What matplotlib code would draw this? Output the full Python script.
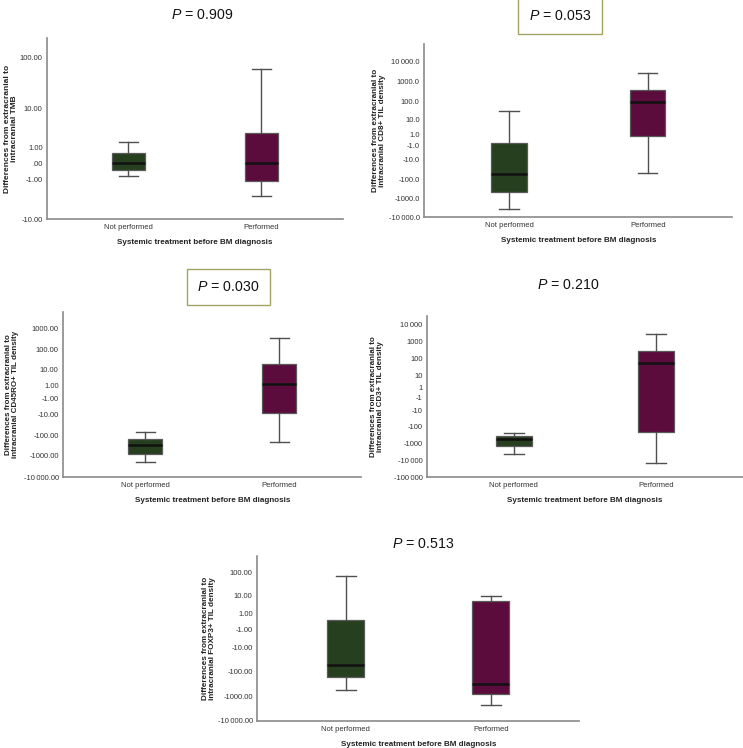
import numpy as np
import matplotlib
matplotlib.use("Agg")
import matplotlib.pyplot as plt
from matplotlib.ticker import NullLocator

plt.rcParams['font.family'] = ['Liberation Sans', 'DejaVu Sans']
plt.rcParams['mathtext.fontset'] = 'custom'
plt.rcParams['mathtext.it'] = 'Liberation Sans:italic'
plt.rcParams['mathtext.rm'] = 'Liberation Sans'

# ---------------- data ----------------
groups = ["Not performed", "Performed"]
x_title = "Systemic treatment before BM diagnosis"

# box stats: whisker low, Q1, median, Q3, whisker high
tmb_not = [-0.79, -0.41, 0.0, 0.66, 1.37]
tmb_perf = [-2.55, -1.08, 0.0, 2.39, 59.0]
cd8_not = [-3800, -447, -53, -0.44, 27.4]
cd8_perf = [-49, 0.66, 88, 361, 2560]
cd45_not = [-1950, -818, -313, -151, -72]
cd45_perf = [-209, -8.2, 1.33, 19.7, 345]
cd3_not = [-3900, -1400, -500, -336, -224]
cd3_perf = [-13800, -212, 52, 281, 2910]
foxp3_not = [-567, -178, -55, 0.16, 71]
foxp3_perf = [-2350, -818, -328, 5.4, 10]

p_values = ["0.909", "0.053", "0.030", "0.210", "0.513"]
y_titles = [
    "Differences from extracranial to\nintracranial TMB",
    "Differences from extracranial to\nintracranial CD8+ TIL density",
    "Differences from extracranial to\nintracranial CD45RO+ TIL density",
    "Differences from extracranial to\nintracranial CD3+ TIL density",
    "Differences from extracranial to\nintracranial FOXP3+ TIL density",
]

tmb_ticks = [100, 10, 1, 0, -1, -10]
tmb_labels = ["100.00", "10.00", "1.00", ".00", "-1.00", "-10.00"]
cd8_ticks = [10000, 1000, 100, 10, 1, -1, -10, -100, -1000, -10000]
cd8_labels = ["10\u2009000.0", "1000.0", "100.0", "10.0", "1.0", "-1.0", "-10.0",
              "-100.0", "-1000.0", "-10\u2009000.0"]
cd45_ticks = [1000, 100, 10, 1, -1, -10, -100, -1000, -10000]
cd45_labels = ["1000.00", "100.00", "10.00", "1.00", "-1.00", "-10.00", "-100.00",
               "-1000.00", "-10\u2009000.00"]
cd3_ticks = [10000, 1000, 100, 10, 1, -1, -10, -100, -1000, -10000, -100000]
cd3_labels = ["10\u2009000", "1000", "100", "10", "1", "-1", "-10", "-100", "-1000",
              "-10\u2009000", "-100\u2009000"]
foxp3_ticks = [100, 10, 1, -1, -10, -100, -1000, -10000]
foxp3_labels = ["100.00", "10.00", "1.00", "-1.00", "-10.00", "-100.00", "-1000.00",
                "-10\u2009000.00"]

# ---------------- layout (pixels) ----------------
W, H = 743, 748
# axis tick pixel rows (figure y, downward) -- the chart's non-uniform axis spacing
tmb_px = [57.7, 108.7, 147.3, 163.3, 179.7, 219.0]
cd8_px = [61.7, 81.3, 101.0, 119.3, 134.3, 146.0, 160.0, 179.2, 198.3, 217.3]
cd45_px = [328.3, 349.3, 369.7, 385.7, 398.5, 414.0, 435.0, 455.8, 477.0]
cd3_px = [325.0, 341.8, 358.5, 375.3, 388.0, 397.7, 410.8, 426.7, 443.8, 461.0, 477.3]
foxp3_px = [572.5, 595.8, 614.0, 629.0, 647.7, 671.0, 696.2, 720.7]

panels = [
    dict(not_=tmb_not, perf=tmb_perf, ticks=tmb_ticks, labels=tmb_labels, px=tmb_px,
         x0=47.3, top=38.3, sp=133.0, p=p_values[0], box=False, ptxt=(202, 15),
         ylab=y_titles[0], ylfs=6.0, ylx=18.0),
    dict(not_=cd8_not, perf=cd8_perf, ticks=cd8_ticks, labels=cd8_labels, px=cd8_px,
         x0=424.3, top=44.0, sp=138.8, p=p_values[1], box=True, ptxt=(560, 16),
         ylab=y_titles[1], ylfs=5.9, ylx=386.0),
    dict(not_=cd45_not, perf=cd45_perf, ticks=cd45_ticks, labels=cd45_labels, px=cd45_px,
         x0=63.3, top=311.7, sp=134.2, p=p_values[2], box=True, ptxt=(228.5, 287),
         ylab=y_titles[2], ylfs=5.8, ylx=19.0),
    dict(not_=cd3_not, perf=cd3_perf, ticks=cd3_ticks, labels=cd3_labels, px=cd3_px,
         x0=427.3, top=315.7, sp=142.0, p=p_values[3], box=False, ptxt=(567.7, 285),
         ylab=y_titles[3], ylfs=5.8, ylx=384.0),
    dict(not_=foxp3_not, perf=foxp3_perf, ticks=foxp3_ticks, labels=foxp3_labels, px=foxp3_px,
         x0=257.3, top=555.7, sp=145.1, p=p_values[4], box=False, ptxt=(423.3, 544.3),
         ylab=y_titles[4], ylfs=5.9, ylx=215.5),
]

XLIM = (-0.61, 1.61)
BOXW = 0.254
COL_NOT = "#263f1e"
COL_PERF = "#5b0b3c"


def tfun(v):
    v = np.asarray(v, dtype=float)
    a = np.abs(v)
    return np.where(a >= 1, np.sign(v) * (1 + np.log10(np.maximum(a, 1))), v)


def tinv(t):
    t = np.asarray(t, dtype=float)
    a = np.abs(t)
    return np.where(a >= 1, np.sign(t) * 10 ** (np.maximum(a, 1) - 1), t)


def interp_ext(x, xp, fp):
    x = np.asarray(x, dtype=float)
    xp = np.asarray(xp, dtype=float)
    fp = np.asarray(fp, dtype=float)
    y = np.interp(x, xp, fp)
    s0 = (fp[1] - fp[0]) / (xp[1] - xp[0])
    s1 = (fp[-1] - fp[-2]) / (xp[-1] - xp[-2])
    y = np.where(x < xp[0], fp[0] + (x - xp[0]) * s0, y)
    y = np.where(x > xp[-1], fp[-1] + (x - xp[-1]) * s1, y)
    return y


def make_scale(ticks, px):
    tt = tfun(ticks)[::-1]
    pp = -np.asarray(px, float)[::-1]
    fwd = lambda v: interp_ext(tfun(np.ma.getdata(v)), tt, pp)
    inv = lambda p: tinv(interp_ext(np.ma.getdata(p), pp, tt))
    return fwd, inv


def stats(vals):
    lo, q1, med, q3, hi = vals
    return dict(whislo=lo, q1=q1, med=med, q3=q3, whishi=hi, fliers=[])


fig = plt.figure(figsize=(W / 100, H / 100), dpi=100)

for pn in panels:
    bottom = pn["px"][-1]
    top = pn["top"]
    width_px = (XLIM[1] - XLIM[0]) * pn["sp"]
    ax = fig.add_axes([pn["x0"] / W, 1 - bottom / H, width_px / W, (bottom - top) / H])
    fwd, inv = make_scale(pn["ticks"], pn["px"])
    ax.set_yscale("function", functions=(fwd, inv))
    ytop = float(inv(np.array([-top]))[0])
    ax.set_ylim(pn["ticks"][-1], ytop)
    ax.set_xlim(*XLIM)

    bp = ax.bxp([stats(pn["not_"]), stats(pn["perf"])], positions=[0, 1],
                widths=BOXW, patch_artist=True, showfliers=False,
                capwidths=BOXW * 0.55,
                boxprops=dict(edgecolor="#5a5a5a", linewidth=0.9),
                whiskerprops=dict(color="#505050", linewidth=1.0),
                capprops=dict(color="#505050", linewidth=1.0),
                medianprops=dict(color="#111111", linewidth=1.8))
    for patch, c in zip(bp["boxes"], [COL_NOT, COL_PERF]):
        patch.set_facecolor(c)

    ax.set_yticks(pn["ticks"], pn["labels"])
    ax.yaxis.set_minor_locator(NullLocator())
    ax.set_xticks([0, 1], groups)
    ax.tick_params(axis="both", length=0, labelsize=5.5, colors="#333333")
    ax.tick_params(axis="y", pad=3.3)
    ax.tick_params(axis="x", pad=3.5)
    for s in ["top", "right"]:
        ax.spines[s].set_visible(False)
    for s in ["left", "bottom"]:
        ax.spines[s].set_color("#8a8a8a")
        ax.spines[s].set_linewidth(1.2)
    ax.set_facecolor("none")
    ax.set_xlabel(x_title, fontsize=5.8, fontweight="bold", color="#222222", labelpad=6)
    ax.set_ylabel(pn["ylab"], fontsize=pn["ylfs"], fontweight="bold", color="#222222",
                  linespacing=0.95)
    ax.yaxis.set_label_coords((pn["ylx"] - pn["x0"]) / width_px, 0.5)

    tx, ty = pn["ptxt"]
    kw = dict(ha="center", va="center", fontsize=10.2, color="#111111")
    if pn["box"]:
        kw["bbox"] = dict(boxstyle="square,pad=0.75", facecolor="white",
                          edgecolor="#a2a463", linewidth=1.0)
    fig.text(tx / W, 1 - ty / H, "$P$ = " + pn["p"], **kw)

fig.savefig("out.png", dpi=100)
